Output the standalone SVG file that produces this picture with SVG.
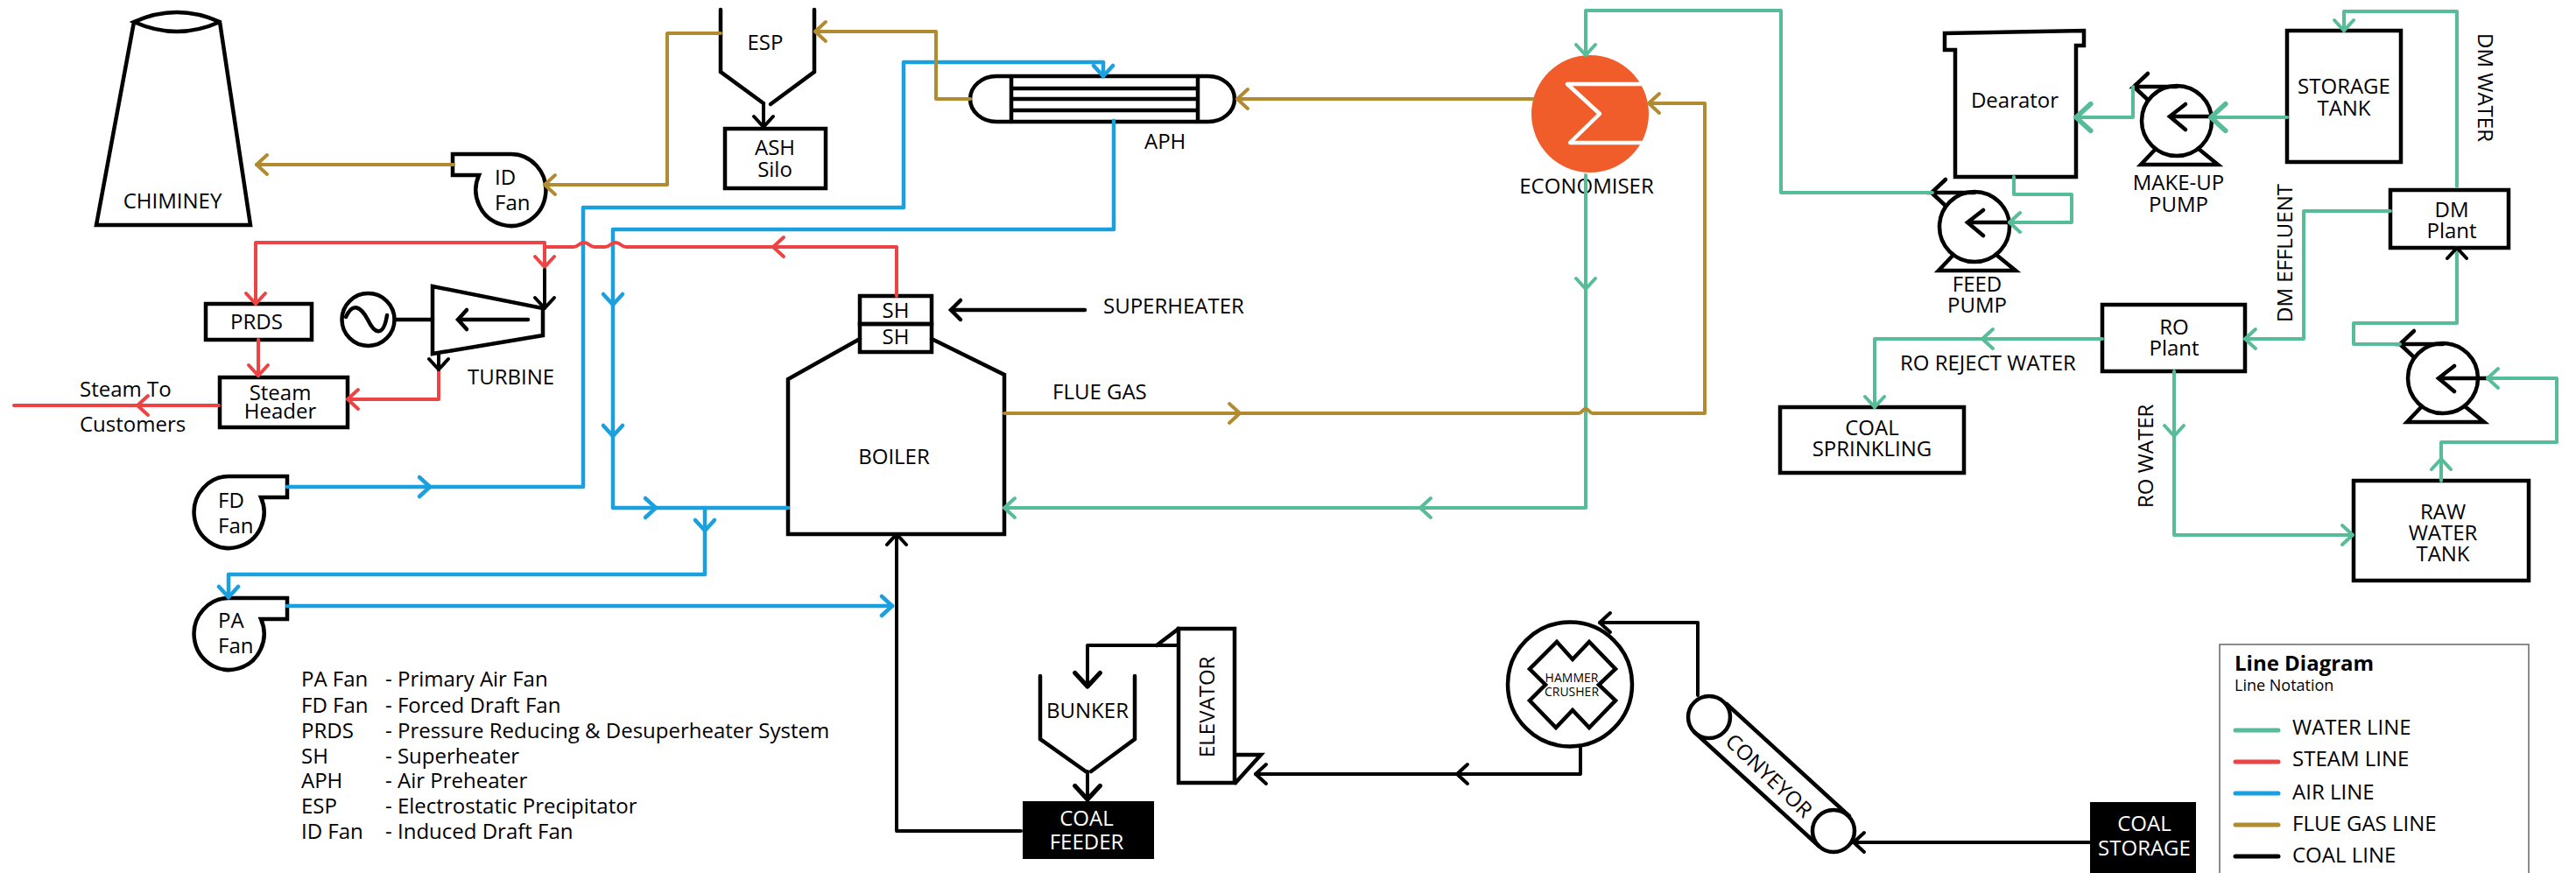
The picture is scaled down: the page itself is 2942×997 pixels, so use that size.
<svg xmlns="http://www.w3.org/2000/svg" width="2942" height="997" viewBox="0 0 2942 997">
<style>
text{font-family:"Open Sans","Noto Sans","Liberation Sans",sans-serif;font-size:24px;fill:#000}
.m{text-anchor:middle}
.wt{fill:#fff}
.s{fill:none;stroke:#000;stroke-width:4.500;stroke-linejoin:miter;stroke-linecap:round}
.c{fill:none;stroke-width:4;stroke-linejoin:round;stroke-linecap:round}
.water{stroke:#57bc98}.steam{stroke:#ec4444}.air{stroke:#1ba0df;stroke-width:4.500}.flue{stroke:#b18b30}.coal{stroke:#000}
</style>
<defs>
<path id="ah" d="M-12,-11 L0,0 L-12,11"/>
<path id="fan" d="M0,-41 H65 V-17 H35 A40,41 0 1 1 0,-41 Z"/>
<g id="pump">
<circle cx="0" cy="0" r="40" class="s"/>
<path class="s" d="M-33,-54 L-49,-39 H0 M-49,-39 L-33,-24"/>
<path class="s" d="M-25,33 L-41,50 H47 L25,32"/>
</g>
<path id="pump-arrow" class="s" d="M38,0 H-8 M10,-14 L-8,0 L10,15"/>
</defs>
<rect width="2942" height="997" fill="#fff"/>

<g id="chimney"><path class="s" d="M153,25 L110,257 H286 L251,25 Q202,3 153,25 Q202,47 251,25"/><text x="197" y="238" class="m">CHIMINEY</text></g>
<g id="esp"><path class="s" d="M823,11 V82 L872,118 M930,11 V82 L880,119"/><text x="874" y="57" class="m">ESP</text></g>
<g id="ash-silo"><rect x="828" y="147" width="115" height="68" class="s"/><text x="885" y="177" class="m">ASH</text><text x="885" y="202" class="m">Silo</text></g>
<g id="id-fan"><use href="#fan" class="s" transform="translate(582,217) scale(-1,1)"/><text x="565" y="211">ID</text><text x="565" y="240">Fan</text></g>
<g id="fd-fan"><use href="#fan" class="s" transform="translate(263,585)"/><text x="249" y="580">FD</text><text x="249" y="609">Fan</text></g>
<g id="pa-fan"><use href="#fan" class="s" transform="translate(263,724)"/><text x="249" y="717">PA</text><text x="249" y="746">Fan</text></g>
<g id="prds"><rect x="235" y="347" width="121" height="41" class="s"/><text x="293" y="376" class="m">PRDS</text></g>
<g id="steam-header"><rect x="251" y="431" width="146" height="57" class="s"/><text x="320" y="457" class="m">Steam</text><text x="320" y="478" class="m">Header</text></g>
<g id="generator"><circle cx="420.500" cy="365" r="30" class="s"/><path class="s" d="M395,362 C403,345 412,350 420,365 C428,382 438,385 442,360"/><path class="s" d="M451,365 H494"/></g>
<g id="turbine"><path class="s" d="M494,327 L620,352 V383 L494,404 Z"/><path class="s" d="M603,365 H523 M533,354 L523,365 L533,376"/><text x="534" y="439">TURBINE</text></g>
<g id="boiler"><path class="s" d="M982,387 L900,433 V610 H1147 V428 L1064,387"/><text x="1021" y="530" class="m">BOILER</text></g>
<g id="superheater"><rect x="982" y="338" width="82" height="32" class="s"/><rect x="982" y="370" width="82" height="32" class="s"/><text x="1023" y="363" class="m">SH</text><text x="1023" y="393" class="m">SH</text><path class="s" d="M1239,354 H1086 M1097,343 L1086,354 L1097,365"/><text x="1260" y="358">SUPERHEATER</text></g>
<g id="aph"><rect x="1108" y="87" width="302" height="52" rx="30" ry="26" class="s"/><path class="s" d="M1155,87 V139 M1368,87 V139 M1155,101 H1368 M1155,113 H1368 M1155,126 H1368"/><text x="1307" y="170">APH</text></g>
<g id="economiser"><circle cx="1816" cy="130" r="67" fill="#f15d2a"/><path d="M1876,96 H1790 L1827,130 L1793,163 H1875" fill="none" stroke="#fff" stroke-width="4.500" stroke-linejoin="round"/><text x="1812" y="221" class="m">ECONOMISER</text></g>
<g id="dearator"><path class="s" d="M2221,38 L2380,35 V52 H2371 V202 H2233 V57 H2221 Z"/><text x="2301" y="123" class="m">Dearator</text></g>
<g id="feed-pump"><use href="#pump" transform="translate(2255,259)"/><use href="#pump-arrow" transform="translate(2255,254)"/><text x="2258" y="333" class="m">FEED</text><text x="2258" y="357" class="m">PUMP</text></g>
<g id="makeup-pump"><use href="#pump" transform="translate(2486,138)"/><use href="#pump-arrow" transform="translate(2486,133)"/><text x="2488" y="217" class="m">MAKE-UP</text><text x="2488" y="242" class="m">PUMP</text></g>
<g id="raw-pump"><use href="#pump" transform="translate(2790,432)"/><use href="#pump-arrow" transform="translate(2793,432)"/><path class="s" d="M2830,432 H2841"/></g>
<g id="storage-tank"><rect x="2612" y="35" width="130" height="150" class="s"/><text x="2677" y="107" class="m">STORAGE</text><text x="2677" y="132" class="m">TANK</text></g>
<g id="dm-plant"><rect x="2730" y="217" width="135" height="66" class="s"/><text x="2800" y="248" class="m">DM</text><text x="2800" y="272" class="m">Plant</text></g>
<g id="ro-plant"><rect x="2401" y="348" width="163" height="76" class="s"/><text x="2483" y="382" class="m">RO</text><text x="2483" y="406" class="m">Plant</text></g>
<g id="coal-sprinkling"><rect x="2033" y="465" width="210" height="75" class="s"/><text x="2138" y="497" class="m">COAL</text><text x="2138" y="521" class="m">SPRINKLING</text></g>
<g id="raw-water-tank"><rect x="2688" y="549" width="200" height="114" class="s"/><text x="2790" y="593" class="m">RAW</text><text x="2790" y="617" class="m">WATER</text><text x="2790" y="641" class="m">TANK</text></g>
<g id="bunker"><path class="s" d="M1188,772 V844 L1240,881 M1296,772 V844 L1246,881"/><text x="1242" y="820" class="m">BUNKER</text></g>
<g id="elevator"><rect x="1346" y="718" width="64" height="176" class="s"/><path class="s" d="M1346,718 L1321,737 M1411,862 H1440 L1411,894"/><text transform="translate(1387,865) rotate(-90)">ELEVATOR</text></g>
<g id="coal-feeder"><rect x="1168" y="915" width="150" height="66" fill="#000"/><text x="1241" y="943" class="m wt">COAL</text><text x="1241" y="970" class="m wt">FEEDER</text></g>
<g id="hammer-crusher"><circle cx="1793" cy="781.500" r="71" class="s"/><path class="s" d="M1778,733 L1796,753 L1815,733 L1845,764 L1826,782 L1845,800 L1815,831 L1796,811 L1777,831 L1747,800 L1765,782 L1747,764 Z"/><text x="1795" y="779" class="m" style="font-size:14px">HAMMER</text><text x="1795" y="795" class="m" style="font-size:14px">CRUSHER</text></g>
<g id="conveyor"><circle cx="1952" cy="819" r="24" class="s"/><circle cx="2094" cy="949" r="24" class="s"/><path class="s" d="M1972,804 L2112,932 M1935,836 L2077,966"/><text transform="translate(2020,886) rotate(43.700)" class="m" dy="8">CONYEYOR</text></g>
<g id="coal-storage"><rect x="2387" y="916" width="121" height="81" fill="#000"/><text x="2449" y="949" class="m wt">COAL</text><text x="2449" y="977" class="m wt">STORAGE</text></g>

<g id="labels">
<text x="91" y="453">Steam To</text><text x="91" y="493">Customers</text>
<text x="1202" y="456">FLUE GAS</text>
<text transform="translate(2830,38) rotate(90)">DM WATER</text>
<text transform="translate(2618,368) rotate(-90)">DM EFFLUENT</text>
<text transform="translate(2459,580) rotate(-90)">RO WATER</text>
<text x="2170" y="423">RO REJECT WATER</text>
</g>

<g id="abbreviations">
<text x="344" y="784">PA Fan</text><text x="440" y="784">- Primary Air Fan</text>
<text x="344" y="814">FD Fan</text><text x="440" y="814">- Forced Draft Fan</text>
<text x="344" y="843">PRDS</text><text x="440" y="843">- Pressure Reducing &amp; Desuperheater System</text>
<text x="344" y="872">SH</text><text x="440" y="872">- Superheater</text>
<text x="344" y="900">APH</text><text x="440" y="900">- Air Preheater</text>
<text x="344" y="929">ESP</text><text x="440" y="929">- Electrostatic Precipitator</text>
<text x="344" y="958">ID Fan</text><text x="440" y="958">- Induced Draft Fan</text>
</g>

<g id="legend">
<rect x="2535" y="736" width="353" height="280" fill="none" stroke="#666" stroke-width="1.500"/>
<text x="2552" y="766" style="font-weight:700">Line Diagram</text>
<text x="2552" y="789" style="font-size:18px">Line Notation</text>
<path class="c water" d="M2553,834 H2602" style="stroke-width:5"/><text x="2618" y="839">WATER LINE</text>
<path class="c steam" d="M2553,870 H2602" style="stroke-width:5"/><text x="2618" y="875">STEAM LINE</text>
<path class="c air" d="M2553,906 H2602" style="stroke-width:5"/><text x="2618" y="913">AIR LINE</text>
<path class="c flue" d="M2553,942 H2602" style="stroke-width:5"/><text x="2618" y="949">FLUE GAS LINE</text>
<path class="c coal" d="M2553,978 H2602" style="stroke-width:5"/><text x="2618" y="985">COAL LINE</text>
</g>

<g id="connectors">
<g class="c air">
<path d="M328,556 H666 V237 H1032 V71 H1260 V87"/>
<path d="M1272,138 V262 H700 V580 H900"/>
<path d="M805,580 V656 H261 V682"/>
<path d="M328,692 H1019"/>
<use href="#ah" transform="translate(491,556)"/>
<use href="#ah" transform="translate(1260,87) rotate(90)"/>
<use href="#ah" transform="translate(700,348) rotate(90)"/>
<use href="#ah" transform="translate(700,498) rotate(90)"/>
<use href="#ah" transform="translate(749,580)"/>
<use href="#ah" transform="translate(805,606) rotate(90)"/>
<use href="#ah" transform="translate(261,682) rotate(90)"/>
<use href="#ah" transform="translate(1019,692)"/>
</g>
<g class="c steam">
<path d="M1024,338 V282 H715 C709,282 709,277 703,277 C697,277 697,282 691,282 H679 C673,282 673,277 667,277 C661,277 661,282 655,282 H622"/>
<path d="M622,305 V277 H292 V347"/>
<path d="M295,388 V429"/>
<path d="M501,422 V456 H397"/>
<path d="M250,463 H16"/>
<use href="#ah" transform="translate(883,282) rotate(180)"/>
<use href="#ah" transform="translate(622,305) rotate(90)"/>
<use href="#ah" transform="translate(292,347) rotate(90)"/>
<use href="#ah" transform="translate(295,429) rotate(90)"/>
<use href="#ah" transform="translate(397,456) rotate(180)"/>
<use href="#ah" transform="translate(157,463) rotate(180)"/>
</g>
<g class="c water">
<path d="M2207,220 H2034 V12 H1811 V63"/>
<path d="M1811,200 V580 H1147"/>
<path d="M2300,202 V222 H2366 V254 H2295"/>
<path d="M2612,134 H2525"/>
<path d="M2436,99 V134 H2371"/>
<path d="M2806,213 V13 H2677 V35"/>
<path d="M2730,241 H2631 V387 H2564"/>
<path d="M2401,387 H2141 V465"/>
<path d="M2483,424 V611 H2687"/>
<path d="M2788,549 V505 H2920 V432 H2841"/>
<path d="M2741,393 H2688 V369 H2806 V283"/>
<use href="#ah" transform="translate(1811,63) rotate(90)"/>
<use href="#ah" transform="translate(1811,330) rotate(90)"/>
<use href="#ah" transform="translate(1622,580) rotate(180)"/>
<use href="#ah" transform="translate(1147,580) rotate(180)"/>
<use href="#ah" transform="translate(2295,254) rotate(180)"/>
<use href="#ah" transform="translate(2525,134) rotate(180) scale(1.400)"/>
<use href="#ah" transform="translate(2371,134) rotate(180) scale(1.400)"/>
<use href="#ah" transform="translate(2677,35) rotate(90)"/>
<use href="#ah" transform="translate(2564,387) rotate(180)"/>
<use href="#ah" transform="translate(2264,387) rotate(180)"/>
<use href="#ah" transform="translate(2141,465) rotate(90)"/>
<use href="#ah" transform="translate(2483,498) rotate(90)"/>
<use href="#ah" transform="translate(2687,611)"/>
<use href="#ah" transform="translate(2788,524) rotate(-90)"/>
<use href="#ah" transform="translate(2841,432) rotate(180)"/>
</g>
<g class="c flue">
<path d="M823,38 H762 V211 H622"/>
<path d="M518,188 H293"/>
<path d="M1108,113 H1069 V36 H931"/>
<path d="M1751,113 H1413"/>
<path d="M1147,472 H1803 C1807,472 1807,467 1811,467 C1815,467 1815,472 1819,472 H1947 V118 H1883"/>
<use href="#ah" transform="translate(622,211) rotate(180)"/>
<use href="#ah" transform="translate(293,188) rotate(180)"/>
<use href="#ah" transform="translate(931,36) rotate(180)"/>
<use href="#ah" transform="translate(1413,113) rotate(180)"/>
<use href="#ah" transform="translate(1416,472)"/>
<use href="#ah" transform="translate(1883,118) rotate(180)"/>
</g>
<g class="c coal">
<path d="M622,308 V352"/>
<path d="M501,404 V422"/>
<path d="M872,118 V145"/>
<path d="M1166,949 H1024 V610"/>
<path d="M1242,881 V913"/>
<path d="M1346,737 H1242 V784"/>
<path d="M1805,853 V884 H1434"/>
<path d="M1939,794 V711 H1827"/>
<path d="M2386,962 H2117"/>
<use href="#ah" transform="translate(622,352) rotate(90)"/>
<use href="#ah" transform="translate(501,422) rotate(90)"/>
<use href="#ah" transform="translate(872,145) rotate(90)"/>
<use href="#ah" transform="translate(1024,610) rotate(-90)"/>
<use href="#ah" transform="translate(1242,913) rotate(90) scale(1.300)"/>
<use href="#ah" transform="translate(1242,784) rotate(90) scale(1.300)"/>
<use href="#ah" transform="translate(1434,884) rotate(180)"/>
<use href="#ah" transform="translate(1664,884) rotate(180)"/>
<use href="#ah" transform="translate(1827,711) rotate(180)"/>
<use href="#ah" transform="translate(2117,962) rotate(180)"/>
<use href="#ah" transform="translate(2806,283) rotate(-90)"/>
</g>
</g>
</svg>
